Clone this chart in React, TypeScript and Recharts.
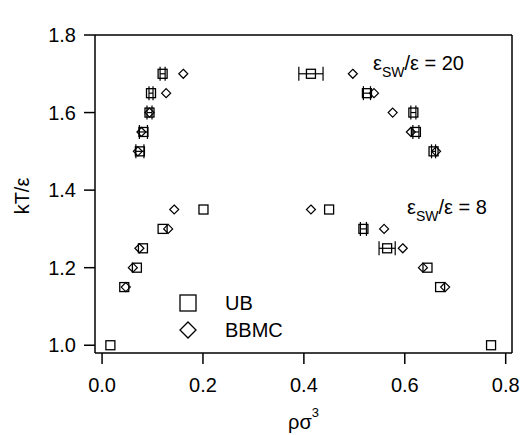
import React from "react";
import {
  ScatterChart,
  Scatter,
  XAxis,
  YAxis,
  ErrorBar,
} from "recharts";

// temperatures (kT/eps) for each model
const T20 = [1.7, 1.65, 1.6, 1.55, 1.5];
const T8_UB = [1.35, 1.3, 1.25, 1.2, 1.15, 1.0];
const T8_BB = [1.35, 1.3, 1.25, 1.2, 1.15];

// eps_sw/eps = 20
const ubVap20 = [0.12, 0.097, 0.094, 0.082, 0.075];
const ubVapErr20 = [0.005, 0.004, 0.005, 0.008, 0.008];
const ubLiq20 = [0.414, 0.525, 0.617, 0.622, 0.657];
const ubLiqErr20 = [0.024, 0.007, 0.005, 0.006, 0.004];
const bbVap20 = [0.161, 0.127, 0.094, 0.078, 0.071];
const bbLiq20 = [0.497, 0.539, 0.576, 0.612, 0.662];

// eps_sw/eps = 8
const ubVap8 = [0.201, 0.12, 0.081, 0.069, 0.044, 0.0165];
const ubLiq8 = [0.45, 0.518, 0.565, 0.645, 0.67, 0.771];
const ubLiqErr8 = [0, 0.006, 0.016, 0, 0, 0];
const bbVap8 = [0.143, 0.131, 0.074, 0.061, 0.047];
const bbLiq8 = [0.414, 0.559, 0.596, 0.636, 0.68];

const X_TICKS = [0, 0.2, 0.4, 0.6, 0.8];
const Y_TICKS = [1.0, 1.2, 1.4, 1.6, 1.8];

const FONT = "'Liberation Sans', Arial, Helvetica, sans-serif";

const pts = (xs: number[], ys: number[], errs?: number[]) =>
  xs.map((x, i) => ({ x, y: ys[i], ex: errs ? errs[i] : 0 }));

const ubData = [
  ...pts(ubVap20, T20, ubVapErr20),
  ...pts(ubLiq20, T20, ubLiqErr20),
  ...pts(ubVap8, T8_UB),
  ...pts(ubLiq8, T8_UB, ubLiqErr8),
];
const bbData = [
  ...pts(bbVap20, T20),
  ...pts(bbLiq20, T20),
  ...pts(bbVap8, T8_BB),
  ...pts(bbLiq8, T8_BB),
];

const Square = (p: any) => (
  <rect x={p.cx - 4.5} y={p.cy - 4.5} width={9} height={9} fill="none" stroke="#000" strokeWidth={1.3} />
);

const Diamond = (p: any) => (
  <polygon
    points={`${p.cx},${p.cy - 4.5} ${p.cx + 4.5},${p.cy} ${p.cx},${p.cy + 4.5} ${p.cx - 4.5},${p.cy}`}
    fill="none"
    stroke="#000"
    strokeWidth={1.2}
  />
);

export default function App() {
  const axisTick = { fill: "#000", fontSize: 20, fontFamily: FONT };
  return (
    <div style={{ position: "absolute", left: 0, top: 0, width: 524, height: 435, background: "#fff" }}>
      <ScatterChart width={524} height={435} margin={{ top: 0, right: 0, bottom: 0, left: 0 }} style={{ fontFamily: FONT }}>
        <XAxis
          xAxisId="b"
          type="number"
          dataKey="x"
          domain={[-0.014, 0.8125]}
          ticks={X_TICKS}
          tickFormatter={(v: number) => v.toFixed(1)}
          allowDataOverflow
          height={82}
          tickSize={11}
          tickMargin={14}
          stroke="#000"
          strokeWidth={1.5}
          tick={axisTick}
        />
        <XAxis
          xAxisId="t"
          orientation="top"
          type="number"
          dataKey="x"
          domain={[-0.014, 0.8125]}
          ticks={X_TICKS}
          allowDataOverflow
          height={35}
          tickSize={9}
          tick={false}
          stroke="#000"
          strokeWidth={1.5}
        />
        <YAxis
          yAxisId="l"
          type="number"
          dataKey="y"
          domain={[0.98, 1.8]}
          ticks={Y_TICKS}
          tickFormatter={(v: number) => v.toFixed(1)}
          allowDataOverflow
          width={95}
          tickSize={11}
          tickMargin={8}
          stroke="#000"
          strokeWidth={1.5}
          tick={axisTick}
        />
        <YAxis
          yAxisId="r"
          orientation="right"
          type="number"
          dataKey="y"
          domain={[0.98, 1.8]}
          ticks={Y_TICKS}
          allowDataOverflow
          width={12}
          tickSize={11}
          tick={false}
          stroke="#000"
          strokeWidth={1.5}
        />
        <Scatter name="BBMC" data={bbData} xAxisId="b" yAxisId="l" shape={Diamond} isAnimationActive={false} />
        <Scatter name="UB" data={ubData} xAxisId="b" yAxisId="l" shape={Square} isAnimationActive={false}>
          <ErrorBar dataKey="ex" direction="x" width={7} stroke="#000" strokeWidth={1.2} />
        </Scatter>
      </ScatterChart>
      <svg
        width={524}
        height={435}
        style={{ position: "absolute", left: 0, top: 0, pointerEvents: "none", fontFamily: FONT }}
      >
        {/* legend */}
        <rect x={180} y={295} width={16} height={16} fill="none" stroke="#000" strokeWidth={1.3} />
        <text x={225} y={310} fontSize={20} fill="#000">UB</text>
        <polygon points="188,322 196,330 188,338 180,330" fill="none" stroke="#000" strokeWidth={1.3} />
        <text x={225} y={337} fontSize={20} fill="#000">BBMC</text>

        <text x={373} y={70} fontSize={20} fill="#000">
          ε<tspan fontSize={14} dy={7}>SW</tspan>
          <tspan fontSize={20} dy={-7}>/ε = 20</tspan>
        </text>
        <text x={407} y={214} fontSize={20} fill="#000">
          ε<tspan fontSize={14} dy={7}>SW</tspan>
          <tspan fontSize={20} dy={-7}>/ε = 8</tspan>
        </text>
        <text x={288} y={429} fontSize={20} fill="#000">
          ρσ<tspan fontSize={13} dy={-12}>3</tspan>
        </text>
        <text x={29} y={196} fontSize={20} fill="#000" textAnchor="middle" transform="rotate(-90, 29, 196)">
          kT/ε
        </text>
      </svg>
    </div>
  );
}
